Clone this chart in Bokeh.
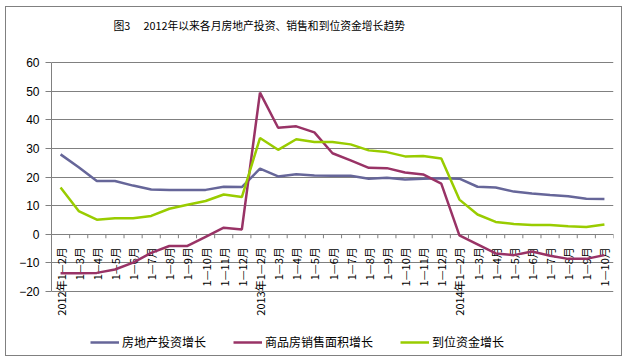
import math
from bokeh.plotting import figure
from bokeh.models import Range1d, FixedTicker, Legend, LegendItem, ColumnDataSource, Label
from bokeh.core.properties import value
from bokeh.embed import file_html
from bokeh.resources import INLINE

# ---- data ----
labels = ["2012年1—2月", "1—3月", "1—4月", "1—5月", "1—6月", "1—7月", "1—8月", "1—9月", "1—10月", "1—11月", "1—12月",
          "2013年1—2月", "1—3月", "1—4月", "1—5月", "1—6月", "1—7月", "1—8月", "1—9月", "1—10月", "1—11月", "1—12月",
          "2014年1—2月", "1—3月", "1—4月", "1—5月", "1—6月", "1—7月", "1—8月", "1—9月", "1—10月"]
invest = [27.9, 23.4, 18.6, 18.6, 17.0, 15.6, 15.5, 15.5, 15.5, 16.6, 16.5,
          22.9, 20.2, 21.0, 20.5, 20.4, 20.4, 19.4, 19.7, 19.1, 19.4, 19.6,
          19.4, 16.6, 16.3, 14.9, 14.2, 13.7, 13.3, 12.4, 12.3]
sales = [-13.6, -13.6, -13.5, -12.3, -9.9, -6.5, -4.1, -4.1, -0.9, 2.3, 1.7,
         49.5, 37.2, 37.7, 35.6, 28.3, 25.8, 23.2, 23.1, 21.6, 20.9, 17.7,
         -0.4, -3.5, -6.7, -7.3, -6.0, -7.5, -8.6, -8.6, -7.3]
funds = [16.3, 8.1, 5.1, 5.6, 5.6, 6.4, 8.9, 10.3, 11.6, 13.9, 13.0,
         33.6, 29.5, 33.2, 32.2, 32.2, 31.4, 29.3, 28.7, 27.2, 27.3, 26.5,
         12.1, 6.9, 4.3, 3.6, 3.2, 3.2, 2.8, 2.5, 3.4]
series_names = ["房地产投资增长", "商品房销售面积增长", "到位资金增长"]
y_ticks = [-20, -10, 0, 10, 20, 30, 40, 50, 60]
title_text = "图3　 2012年以来各月房地产投资、销售和到位资金增长趋势"

colors = ["#666699", "#993366", "#99CC00"]
FONT = "Noto Sans CJK SC"

# ---- layout (pixels) ----
W, H = 617, 350            # canvas
LEFT, RIGHT = 45, 10       # side borders; plot frame spans full height
TOP_GRID = 55              # pixel row of the top gridline
PX_PER_UNIT = 229 / 80     # vertical scale
y_top = max(y_ticks) + TOP_GRID / PX_PER_UNIT
y_bot = max(y_ticks) - (H - TOP_GRID) / PX_PER_UNIT

idx = list(range(len(labels)))
src = ColumnDataSource(dict(x=idx, invest=invest, sales=sales, funds=funds, lab=labels, y0=[0] * len(idx)))

p = figure(width=W, height=H, output_backend="svg", toolbar_location=None,
           x_range=Range1d(-0.5, len(labels) - 0.5), y_range=Range1d(y_bot, y_top),
           x_axis_type=None,
           min_border_left=LEFT, min_border_right=RIGHT, min_border_top=0, min_border_bottom=0)
p.title = None
# outer chart frame (gray border around the whole chart)
p.styles = {"margin-left": "5px", "margin-top": "6px", "border": "1px solid #808080"}
p.outline_line_color = None
p.background_fill_color = "white"
p.border_fill_color = "white"

# title (inside the frame area, screen units)
p.add_layout(Label(x=62, y=H - 17, x_units="screen", y_units="screen", text=title_text,
                   text_font=FONT, text_font_size="10.8px", text_color="black",
                   text_align="left", text_baseline="middle"))

# y axis
p.yaxis.ticker = FixedTicker(ticks=y_ticks)
p.yaxis.bounds = (min(y_ticks), max(y_ticks))
p.yaxis.axis_line_color = "#808080"
p.yaxis.major_tick_line_color = "#808080"
p.yaxis.major_tick_out = 6
p.yaxis.major_tick_in = 0
p.yaxis.minor_tick_line_color = None
p.yaxis.major_label_text_font = "Liberation Sans"
p.yaxis.major_label_text_font_size = "12px"
p.yaxis.major_label_text_color = "black"
p.yaxis.major_label_standoff = 6
p.ygrid.grid_line_color = "#808080"
p.ygrid.grid_line_width = 1
p.ygrid.bounds = (min(y_ticks), max(y_ticks))
p.xgrid.visible = False

# category tick marks along the zero line (category boundaries)
bounds_x = [k - 0.5 for k in range(len(labels) + 1)]
p.segment(x0=bounds_x, y0=[0] * len(bounds_x), x1=bounds_x, y1=[-1.4] * len(bounds_x),
          line_color="#808080", line_width=1)

# category labels (rotated, reading bottom to top)
p.text(x="x", y="y0", text="lab", source=src, angle=math.pi / 2, text_align="right",
       text_baseline="middle", y_offset=13, text_font=value(FONT), text_font_size="11px",
       text_color="black")

r1 = p.line("x", "invest", source=src, line_color=colors[0], line_width=2.5)
r2 = p.line("x", "sales", source=src, line_color=colors[1], line_width=2.5)
r3 = p.line("x", "funds", source=src, line_color=colors[2], line_width=2.5)

legend = Legend(items=[LegendItem(label=series_names[0], renderers=[r1]),
                       LegendItem(label=series_names[1], renderers=[r2]),
                       LegendItem(label=series_names[2], renderers=[r3])],
                orientation="horizontal", location=(39, 7),
                glyph_width=29, glyph_height=14, label_standoff=3, spacing=27,
                padding=0, margin=0, border_line_color=None, background_fill_alpha=0,
                label_text_font=FONT, label_text_font_size="12px", label_text_color="black")
p.add_layout(legend, "center")

open("out.html", "w").write(file_html(p, INLINE))
